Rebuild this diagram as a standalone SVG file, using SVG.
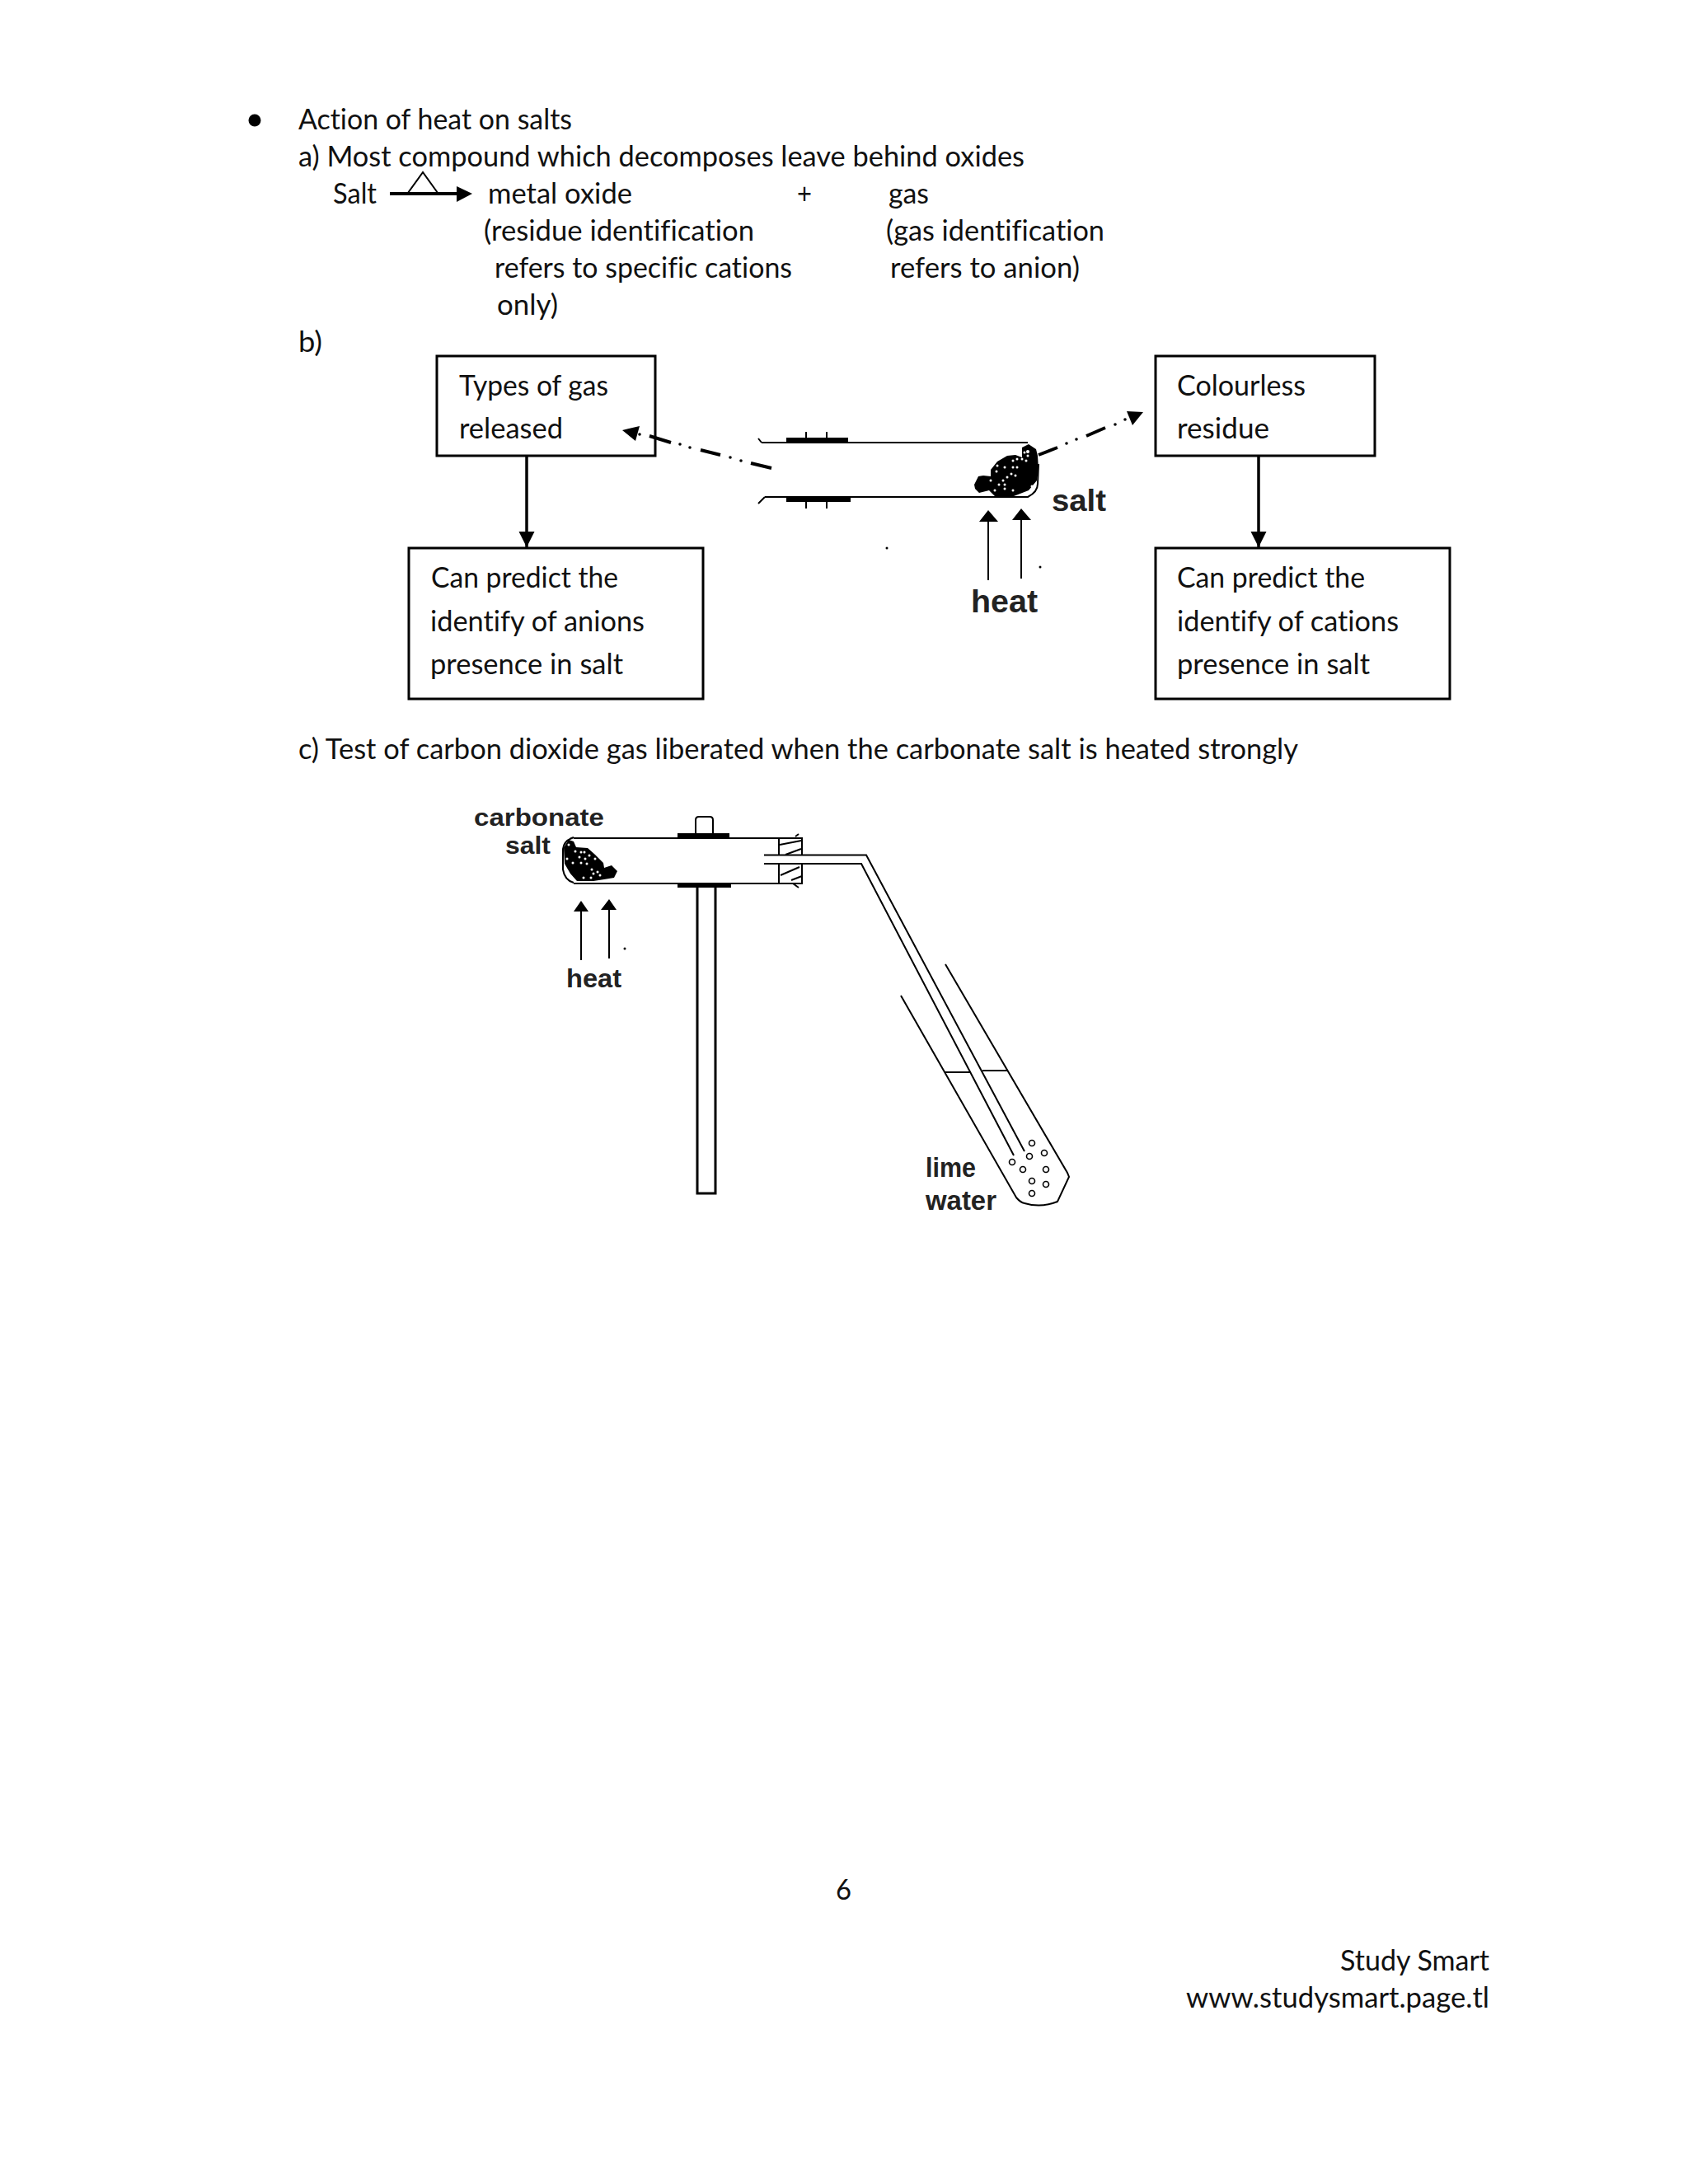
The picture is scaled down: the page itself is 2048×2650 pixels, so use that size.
<svg xmlns="http://www.w3.org/2000/svg" width="2048" height="2650" viewBox="0 0 2048 2650">
<style>
.t{font-family:"Lato","Open Sans","Liberation Sans",sans-serif;font-size:35px;fill:#111;font-variant-ligatures:none}
.b{font-family:"Liberation Sans",Arial,sans-serif;font-weight:bold;fill:#222}
.box{fill:none;stroke:#000;stroke-width:3}
.l{fill:none;stroke:#000;stroke-width:2}
.c{fill:none;stroke:#000;stroke-width:3.500}
.d{fill:none;stroke:#000;stroke-width:4}
.k{fill:#000}
.w{fill:#fff}
.o{fill:none;stroke:#000;stroke-width:1.6}
</style>
<defs>
<marker id="ah" markerUnits="userSpaceOnUse" markerWidth="20" markerHeight="20" refX="19" refY="10" orient="auto"><path d="M0 0.500L19 10L0 19.500Z" fill="#000"/></marker>
</defs>
<rect width="2048" height="2650" fill="#fff"/>
<g id="intro">
<circle cx="309" cy="146" r="7.5" class="k"/>
<text class="t" x="362" y="157" textLength="332" lengthAdjust="spacingAndGlyphs">Action of heat on salts</text>
<text class="t" x="362" y="202" textLength="881" lengthAdjust="spacingAndGlyphs">a) Most compound which decomposes leave behind oxides</text>
<text class="t" x="404" y="247" textLength="53" lengthAdjust="spacingAndGlyphs">Salt</text>
<text class="t" x="592" y="247" textLength="175" lengthAdjust="spacingAndGlyphs">metal oxide</text>
<text class="t" x="967" y="247" textLength="18" lengthAdjust="spacingAndGlyphs">+</text>
<text class="t" x="1078" y="247" textLength="49" lengthAdjust="spacingAndGlyphs">gas</text>
<text class="t" x="587" y="292" textLength="328" lengthAdjust="spacingAndGlyphs">(residue identification</text>
<text class="t" x="1075" y="292" textLength="265" lengthAdjust="spacingAndGlyphs">(gas identification</text>
<text class="t" x="600" y="337" textLength="361" lengthAdjust="spacingAndGlyphs">refers to specific cations</text>
<text class="t" x="1080" y="337" textLength="230" lengthAdjust="spacingAndGlyphs">refers to anion)</text>
<text class="t" x="603" y="382" textLength="74" lengthAdjust="spacingAndGlyphs">only)</text>
<text class="t" x="362" y="427" textLength="29" lengthAdjust="spacingAndGlyphs">b)</text>
<text class="t" x="362" y="921" textLength="1213" lengthAdjust="spacingAndGlyphs">c) Test of carbon dioxide gas liberated when the carbonate salt is heated strongly</text>
<text class="t" x="1014" y="2305" textLength="19" lengthAdjust="spacingAndGlyphs">6</text>
<text class="t" x="1626" y="2391" textLength="181" lengthAdjust="spacingAndGlyphs">Study Smart</text>
<text class="t" x="1439" y="2436" textLength="368" lengthAdjust="spacingAndGlyphs">www.studysmart.page.tl</text>
</g>
<g id="heat-symbol">
<path d="M513 209L495 234H531Z" class="l"/>
<path d="M473 235H556" stroke="#000" stroke-width="4"/>
<path d="M554 226L573 235L554 245Z" class="k"/>
</g>
<g id="box-gas"><rect class="box" x="530" y="432" width="265" height="121"/>
<text class="t" x="557" y="480" textLength="181" lengthAdjust="spacingAndGlyphs">Types of gas</text>
<text class="t" x="557" y="532" textLength="126" lengthAdjust="spacingAndGlyphs">released</text></g>
<g id="box-residue"><rect class="box" x="1402" y="432" width="266" height="121"/>
<text class="t" x="1428" y="480" textLength="156" lengthAdjust="spacingAndGlyphs">Colourless</text>
<text class="t" x="1428" y="532" textLength="112" lengthAdjust="spacingAndGlyphs">residue</text></g>
<g id="box-anions"><rect class="box" x="496" y="665" width="357" height="183"/>
<text class="t" x="523" y="713" textLength="227" lengthAdjust="spacingAndGlyphs">Can predict the</text>
<text class="t" x="522" y="766" textLength="260" lengthAdjust="spacingAndGlyphs">identify of anions</text>
<text class="t" x="522" y="818" textLength="234" lengthAdjust="spacingAndGlyphs">presence in salt</text></g>
<g id="box-cations"><rect class="box" x="1402" y="665" width="357" height="183"/>
<text class="t" x="1428" y="713" textLength="228" lengthAdjust="spacingAndGlyphs">Can predict the</text>
<text class="t" x="1428" y="766" textLength="269" lengthAdjust="spacingAndGlyphs">identify of cations</text>
<text class="t" x="1428" y="818" textLength="234" lengthAdjust="spacingAndGlyphs">presence in salt</text></g>
<g id="connectors">
<path d="M639 553V664" class="c" marker-end="url(#ah)"/>
<path d="M1527 553V664" class="c" marker-end="url(#ah)"/>
<g class="d">
<path d="M936 568L911 562M874 552L850 546M814 537L788 529M1260 552L1283 543M1318 529L1341 519"/>
</g>
<g class="k">
<circle cx="899" cy="559" r="1.8"/><circle cx="886" cy="555" r="1.8"/><circle cx="837" cy="543" r="1.8"/><circle cx="825" cy="539" r="1.8"/><circle cx="776" cy="527" r="1.8"/>
<circle cx="1294" cy="538" r="1.8"/><circle cx="1306" cy="533" r="1.8"/><circle cx="1353" cy="515" r="1.8"/><circle cx="1365" cy="509" r="1.8"/>
</g>
<path d="M755 522L776 517L771 535Z" class="k"/>
<path d="M1387 500L1367 499L1374 516Z" class="k"/>
</g>
<g id="apparatus-b">
<path d="M924 537H1247M928 603H1247Q1259 597 1259 587L1260 563M920 532L924 537M920 611L928 603" class="l"/>
<rect x="954" y="531" width="75" height="6" class="k"/>
<rect x="954" y="603" width="78" height="6" class="k"/>
<path d="M978 524V531M1003 524V531M978 609V617M1003 609V617" class="l"/>
<path class="k" d="M1182 588L1187 578L1193 577L1202 578L1202 570L1210 560L1222 553L1232 552L1240 555L1240 543L1248 539L1257 545L1259 553L1260 570L1258 583L1248 595L1230 602L1207 602L1200 595L1188 598L1183 593Z"/>
<g class="w">
<circle cx="1210" cy="565" r="1.500"/><circle cx="1209" cy="572" r="1.500"/><circle cx="1219" cy="567" r="1.500"/><circle cx="1229" cy="559" r="1.500"/><circle cx="1234" cy="557" r="1.500"/><circle cx="1240" cy="557" r="1.500"/><circle cx="1245" cy="559" r="1.500"/><circle cx="1234" cy="567" r="1.500"/><circle cx="1229" cy="567" r="1.500"/><circle cx="1227" cy="575" r="1.500"/><circle cx="1232" cy="577" r="1.500"/><circle cx="1222" cy="579" r="1.500"/><circle cx="1217" cy="583" r="1.500"/><circle cx="1202" cy="583" r="1.500"/><circle cx="1212" cy="588" r="1.500"/><circle cx="1219" cy="588" r="1.500"/><circle cx="1219" cy="593" r="1.500"/><circle cx="1207" cy="595" r="1.500"/><circle cx="1229" cy="595" r="1.500"/><circle cx="1247" cy="548" r="2"/><circle cx="1243" cy="549" r="1.500"/><circle cx="1247" cy="553" r="1.500"/><circle cx="1252" cy="590" r="1.500"/>
</g>
<path d="M1199 704V632M1239 702V630" class="l"/>
<path d="M1199 619L1211 633H1188ZM1239 617L1251 631H1228Z" class="k"/>
<circle cx="1076" cy="665" r="1.5" class="k"/><circle cx="1262" cy="688" r="1.5" class="k"/>
<text class="b" x="1276" y="620" font-size="37" textLength="66" lengthAdjust="spacingAndGlyphs">salt</text>
<text class="b" x="1178" y="743" font-size="38" textLength="81" lengthAdjust="spacingAndGlyphs">heat</text>
</g>
<g id="apparatus-c">
<path d="M945 1017H696M696 1072H945M696 1016Q684 1020 683 1030L683 1055Q685 1068 696 1071" class="l"/>
<rect x="822" y="1011" width="63" height="6" class="k"/>
<rect x="822" y="1072" width="65" height="5" class="k"/>
<path d="M844 1011V995Q844 991 848 991H861Q865 991 865 995V1011" class="l"/>
<path d="M846 1077V1448H868V1077" class="c" style="stroke-width:3"/>
<path d="M945 1017H973V1072H945Z" class="l"/>
<path d="M946 1025L972 1020M953 1037L972 1030M947 1062L970 1052M960 1068L973 1063M965 1015L969 1012M962 1072L969 1077" class="l"/>
<rect x="944" y="1038" width="30" height="10" class="w"/>
<path d="M927 1037.500H1051L1243 1397M927 1048H1045L1230 1402" class="l"/>
<path d="M1093 1208L1233 1453Q1238 1459 1243 1460Q1263 1466 1283 1458L1297 1428L1295 1423L1147 1170" class="l"/>
<path d="M1147 1301H1178M1192 1299H1223" class="l"/>
<g class="o">
<circle cx="1252" cy="1387" r="3.500"/><circle cx="1267" cy="1399" r="3.500"/><circle cx="1249" cy="1403" r="3.500"/><circle cx="1228" cy="1410" r="3.500"/><circle cx="1241" cy="1419" r="3.500"/><circle cx="1269" cy="1419" r="3.500"/><circle cx="1252" cy="1433" r="3.500"/><circle cx="1269" cy="1437" r="3.500"/><circle cx="1252" cy="1448" r="3.500"/>
</g>
<path class="k" d="M684 1028L690 1019L696 1021L699 1028L713 1029L722 1037L732 1047L733 1053L742 1050L749 1057L745 1065L733 1067L720 1069L700 1069L692 1060L685 1048Z"/>
<g class="w">
<circle cx="690" cy="1025" r="1.500"/><circle cx="698" cy="1033" r="1.500"/><circle cx="705" cy="1034" r="1.500"/><circle cx="709" cy="1034" r="1.500"/><circle cx="703" cy="1040" r="1.500"/><circle cx="710" cy="1042" r="1.500"/><circle cx="715" cy="1038" r="1.500"/><circle cx="722" cy="1042" r="1.500"/><circle cx="688" cy="1042" r="1.500"/><circle cx="712" cy="1048" r="1.500"/><circle cx="705" cy="1047" r="1.500"/><circle cx="718" cy="1055" r="1.500"/><circle cx="725" cy="1058" r="1.500"/><circle cx="720" cy="1060" r="1.500"/><circle cx="728" cy="1062" r="1.500"/><circle cx="708" cy="1065" r="1.500"/><circle cx="717" cy="1065" r="1.500"/><circle cx="695" cy="1047" r="1.500"/>
</g>
<path d="M705 1165V1105M739 1163V1103" class="l"/>
<path d="M705 1093L714 1106H696ZM739 1091L748 1104H729Z" class="k"/>
<circle cx="758" cy="1151" r="1.500" class="k"/>
<text class="b" x="575" y="1002" font-size="30" textLength="158" lengthAdjust="spacingAndGlyphs">carbonate</text>
<text class="b" x="613" y="1036" font-size="30" textLength="55" lengthAdjust="spacingAndGlyphs">salt</text>
<text class="b" x="687" y="1198" font-size="32" textLength="67" lengthAdjust="spacingAndGlyphs">heat</text>
<text class="b" x="1123" y="1428" font-size="33" textLength="61" lengthAdjust="spacingAndGlyphs">lime</text>
<text class="b" x="1123" y="1468" font-size="33" textLength="86" lengthAdjust="spacingAndGlyphs">water</text>
</g>
</svg>
